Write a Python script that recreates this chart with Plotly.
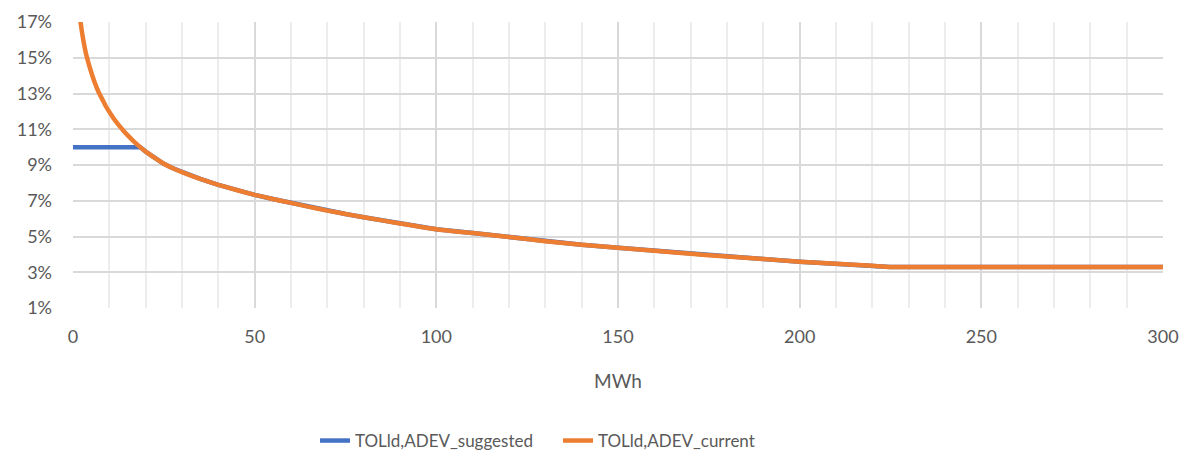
import plotly.graph_objects as go

# Data (x in MWh, y in %)
current_x = [1, 1.5, 2, 2.5, 3, 3.5, 4, 5, 6, 7, 8, 9, 10, 11, 12, 13, 14, 15, 16.5, 18.5,
             20, 22.5, 25, 27.5, 30, 35, 40, 45, 50, 55, 60, 65, 70, 75, 80, 90, 100, 110, 120, 130,
             140, 150, 160, 170, 180, 190, 200, 210, 220, 225, 250, 275, 300]
current_y = [19.3, 18.0, 17.1, 16.4, 15.8, 15.3, 14.9, 14.2, 13.6, 13.1, 12.7, 12.3,
             11.97, 11.66, 11.39, 11.13, 10.89, 10.67, 10.37, 10.0, 9.75, 9.4, 9.07, 8.82, 8.6,
             8.22, 7.89, 7.6, 7.33, 7.1, 6.88, 6.66, 6.45, 6.26, 6.08, 5.73, 5.41, 5.19, 4.97,
             4.74, 4.54, 4.37, 4.2, 4.03, 3.88, 3.74, 3.59, 3.47, 3.36, 3.3, 3.3, 3.3, 3.3]

suggested_x = [0, 18.5, 20, 22.5, 25, 27.5, 30, 35, 40, 45, 50, 55, 60, 65, 70, 75, 80, 90, 100,
               110, 120, 130, 140, 150, 160, 170, 180, 190, 200, 210, 220, 225, 250, 275, 300]
suggested_y = [10.0, 10.0, 9.75, 9.4, 9.07, 8.82, 8.6, 8.22, 7.89, 7.6, 7.33, 7.1, 6.88, 6.66,
               6.45, 6.26, 6.08, 5.73, 5.41, 5.19, 4.97, 4.74, 4.54, 4.37, 4.2, 4.03, 3.88, 3.74,
               3.59, 3.47, 3.36, 3.3, 3.3, 3.3, 3.3]

y_ticks = [1, 3, 5, 7, 9, 11, 13, 15, 17]
x_ticks = [0, 50, 100, 150, 200, 250, 300]

FONT = "Lato, Carlito, 'Liberation Sans', sans-serif"
GRAY = "#595959"

fig = go.Figure()
fig.add_trace(go.Scatter(x=suggested_x, y=suggested_y, mode="lines",
                         name="TOLld,ADEV_suggested",
                         line=dict(color="#4472C4", width=4.5)))
fig.add_trace(go.Scatter(x=current_x, y=current_y, mode="lines",
                         name="TOLld,ADEV_current",
                         line=dict(color="#ED7D31", width=4.5, shape="spline", smoothing=0.5)))

fig.update_layout(
    width=1181, height=456,
    margin=dict(l=73, r=18, t=22, b=148, autoexpand=False),
    paper_bgcolor="white", plot_bgcolor="white",
    font=dict(family=FONT, color=GRAY, size=17),
    showlegend=True,
    legend=dict(orientation="h", x=0.222, xanchor="left", y=-0.465, yanchor="middle",
                font=dict(size=17, color=GRAY), tracegroupgap=0,
                entrywidth=198, entrywidthmode="pixels"),
)
fig.update_xaxes(
    range=[0, 300], tickvals=x_ticks, ticktext=[str(v) for v in x_ticks],
    showgrid=True, gridcolor="#D9D9D9", gridwidth=1.5,
    minor=dict(dtick=10, tick0=0, showgrid=True, gridcolor="#EDEDED", gridwidth=1.5),
    zeroline=False, showline=False, ticks="", ticklabelstandoff=16, automargin=False,
    tickfont=dict(size=18, color=GRAY),
    title=dict(text="MWh", font=dict(size=19, color=GRAY), standoff=28),
)
fig.update_yaxes(
    range=[1, 17], tickvals=y_ticks, ticktext=[f"{v}%" for v in y_ticks],
    showgrid=True, gridcolor="#D9D9D9", gridwidth=1.5,
    zeroline=False, showline=False, ticks="", ticklabelstandoff=20, automargin=False,
    tickfont=dict(size=18, color=GRAY),
)

fig.write_html("out.html")
